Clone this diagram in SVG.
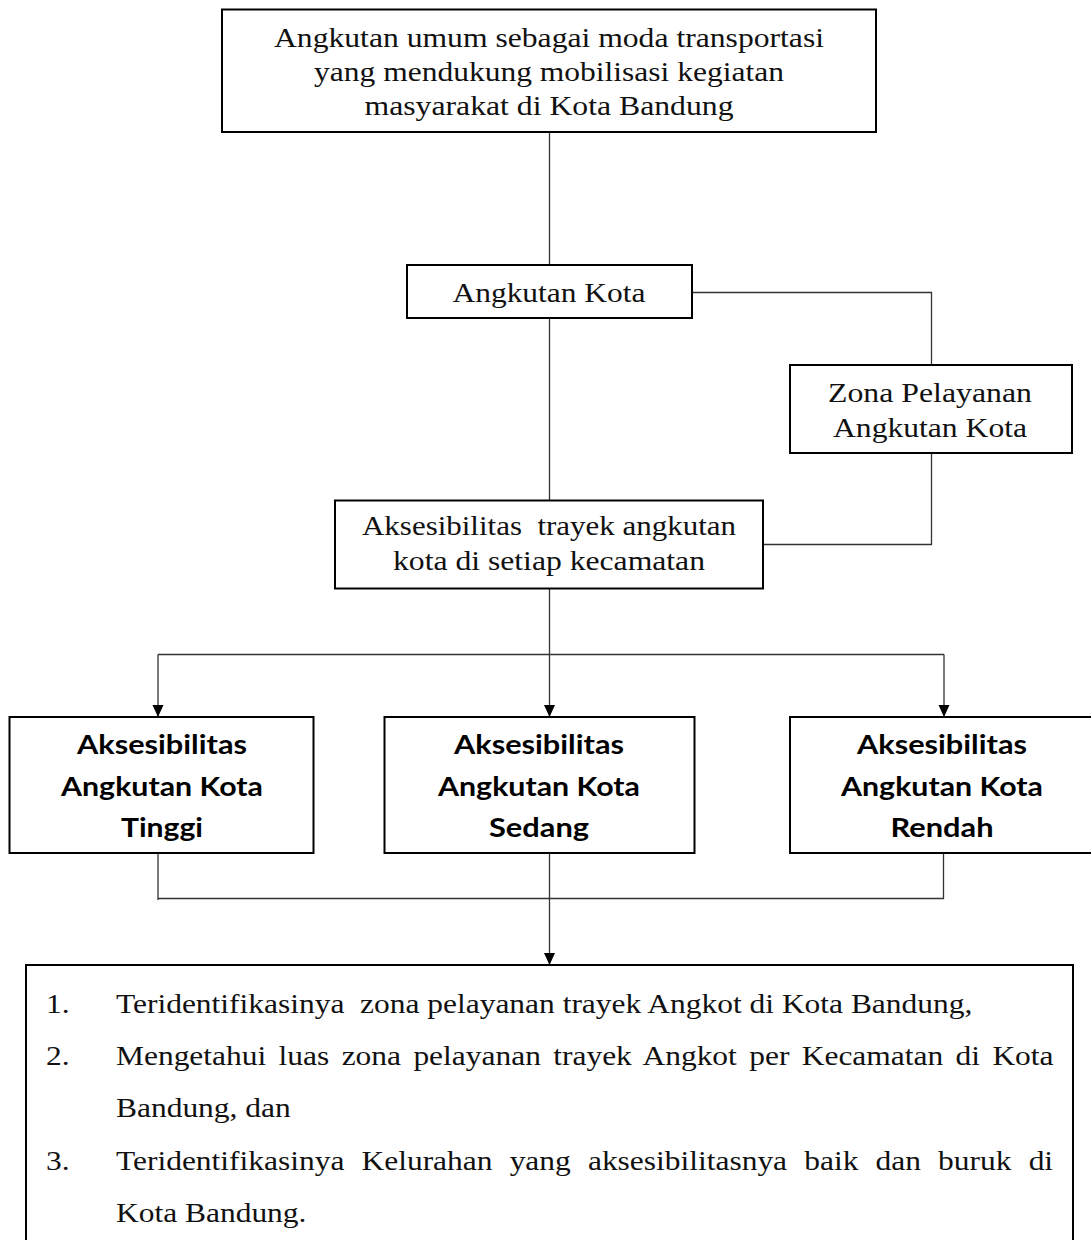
<svg xmlns="http://www.w3.org/2000/svg" width="1091" height="1240" viewBox="0 0 1091 1240">
<style>
.box{fill:#fff;stroke:#000;stroke-width:2}
.t{font-family:"Liberation Serif","Times New Roman",serif;font-size:27.5px;fill:#111;font-variant-ligatures:none}
.l{font-family:"Liberation Serif","Times New Roman",serif;font-size:28px;fill:#111;font-variant-ligatures:none}
.b{font-family:Lato,"Liberation Sans",sans-serif;font-weight:700;font-size:26.5px;fill:#000}
.c{fill:none;stroke:#333;stroke-width:1.3}
</style>
<defs>
<marker id="arr" viewBox="0 0 12 12" refX="12" refY="6" markerWidth="12" markerHeight="12" markerUnits="userSpaceOnUse" orient="auto">
<path d="M0,0.5 L12,6 L0,11.5 z" fill="#000"/>
</marker>
</defs>
<rect width="1091" height="1240" fill="#fff"/>
<g id="connectors">
<path class="c" d="M549.5,132 V265"/>
<path class="c" d="M549.5,318 V500"/>
<path class="c" d="M692,292.5 H931.5 V365"/>
<path class="c" d="M931.5,453 V544.5 H763"/>
<path class="c" d="M549.5,588 V717" marker-end="url(#arr)"/>
<path class="c" d="M158,654.5 H944"/>
<path class="c" d="M158,654.5 V717" marker-end="url(#arr)"/>
<path class="c" d="M944,654.5 V717" marker-end="url(#arr)"/>
<path class="c" d="M158,853 V900 M158,898.5 H943.5 V853"/>
<path class="c" d="M549.5,853 V965" marker-end="url(#arr)"/>
</g>
<g id="node-top">
<rect class="box" x="222" y="9.5" width="654" height="122.5"/>
<text class="t" x="274" y="47" textLength="550" lengthAdjust="spacingAndGlyphs">Angkutan umum sebagai moda transportasi</text>
<text class="t" x="314" y="81" textLength="470" lengthAdjust="spacingAndGlyphs">yang mendukung mobilisasi kegiatan</text>
<text class="t" x="364.5" y="115" textLength="369" lengthAdjust="spacingAndGlyphs">masyarakat di Kota Bandung</text>
</g>
<g id="node-angkot">
<rect class="box" x="407" y="265" width="285" height="53"/>
<text class="t" x="452.5" y="302" textLength="193" lengthAdjust="spacingAndGlyphs">Angkutan Kota</text>
</g>
<g id="node-zona">
<rect class="box" x="790" y="365" width="282" height="88"/>
<text class="t" x="828" y="402" textLength="204" lengthAdjust="spacingAndGlyphs">Zona Pelayanan</text>
<text class="t" x="833" y="437" textLength="194" lengthAdjust="spacingAndGlyphs">Angkutan Kota</text>
</g>
<g id="node-aksesibilitas">
<rect class="box" x="335" y="500.5" width="428" height="88"/>
<text class="t" x="362" y="535" textLength="374" lengthAdjust="spacingAndGlyphs" xml:space="preserve">Aksesibilitas  trayek angkutan</text>
<text class="t" x="393" y="570" textLength="312" lengthAdjust="spacingAndGlyphs">kota di setiap kecamatan</text>
</g>
<g id="node-tinggi">
<rect class="box" x="9.5" y="717" width="304" height="136"/>
<text class="b" x="77" y="754" textLength="170" lengthAdjust="spacingAndGlyphs">Aksesibilitas</text>
<text class="b" x="61" y="796" textLength="202" lengthAdjust="spacingAndGlyphs">Angkutan Kota</text>
<text class="b" x="121" y="837" textLength="82" lengthAdjust="spacingAndGlyphs">Tinggi</text>
</g>
<g id="node-sedang">
<rect class="box" x="384.5" y="717" width="310" height="136"/>
<text class="b" x="454" y="754" textLength="170" lengthAdjust="spacingAndGlyphs">Aksesibilitas</text>
<text class="b" x="438" y="796" textLength="202" lengthAdjust="spacingAndGlyphs">Angkutan Kota</text>
<text class="b" x="489" y="837" textLength="100" lengthAdjust="spacingAndGlyphs">Sedang</text>
</g>
<g id="node-rendah">
<rect class="box" x="790" y="717" width="320" height="136"/>
<text class="b" x="857" y="754" textLength="170" lengthAdjust="spacingAndGlyphs">Aksesibilitas</text>
<text class="b" x="841" y="796" textLength="202" lengthAdjust="spacingAndGlyphs">Angkutan Kota</text>
<text class="b" x="890.5" y="837" textLength="103" lengthAdjust="spacingAndGlyphs">Rendah</text>
</g>
<g id="node-hasil">
<rect class="box" x="26" y="965" width="1047" height="300"/>
<text class="l" transform="translate(46,1013) scale(1.124,1)">1.</text>
<text class="l" transform="translate(116,1013) scale(1.124,1)" xml:space="preserve">Teridentifikasinya  zona pelayanan trayek Angkot di Kota Bandung,</text>
<text class="l" transform="translate(46,1065) scale(1.124,1)">2.</text>
<text class="l" transform="translate(116,1065) scale(1.124,1)" word-spacing="4.02">Mengetahui luas zona pelayanan trayek Angkot per Kecamatan di Kota</text>
<text class="l" transform="translate(116,1117) scale(1.124,1)">Bandung, dan</text>
<text class="l" transform="translate(46,1170) scale(1.124,1)">3.</text>
<text class="l" transform="translate(116,1170) scale(1.124,1)" word-spacing="8.27">Teridentifikasinya Kelurahan yang aksesibilitasnya baik dan buruk di</text>
<text class="l" transform="translate(116,1222) scale(1.124,1)">Kota Bandung.</text>
</g>
</svg>
